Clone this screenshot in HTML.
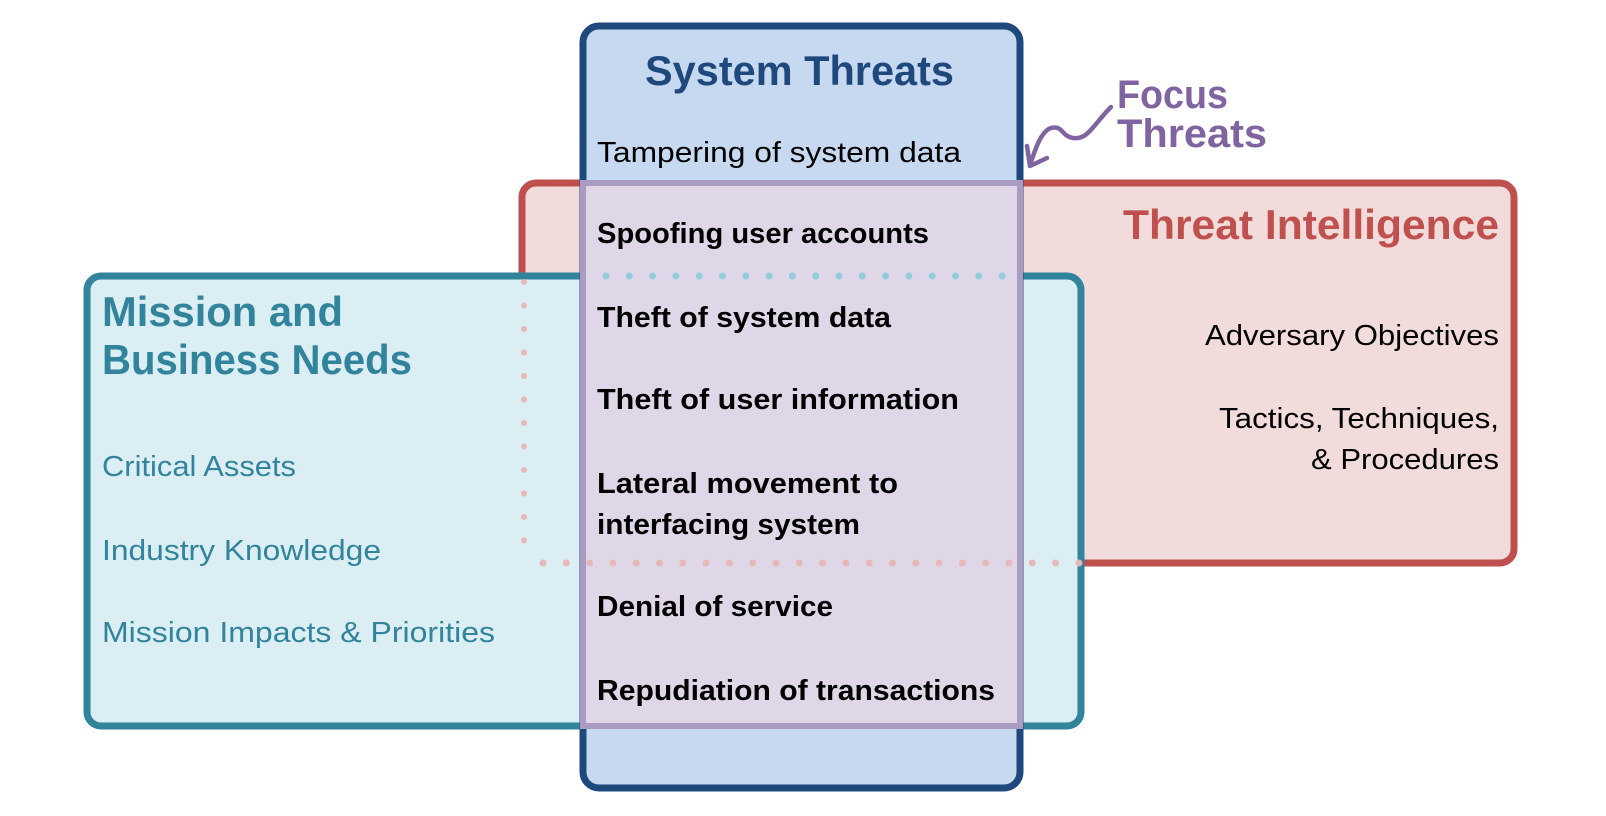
<!DOCTYPE html>
<html><head><meta charset="utf-8"><style>html,body{margin:0;padding:0;background:#fff}svg{display:block}</style></head>
<body>
<svg width="1606" height="816" viewBox="0 0 1606 816" xmlns="http://www.w3.org/2000/svg" font-family="Liberation Sans, sans-serif">
<rect x="522" y="183" width="992" height="380" rx="14" fill="#f2dcdb" stroke="#c0504d" stroke-width="7"/>
<rect x="87" y="276" width="994" height="450" rx="14" fill="#dbeef4" stroke="#31849b" stroke-width="7"/>
<rect x="583" y="26" width="437" height="762" rx="16" fill="#c6d9f1" stroke="#1f497d" stroke-width="7"/>
<rect x="583" y="183" width="437" height="543" fill="#dfd7e8" stroke="#a99bc1" stroke-width="6"/>
<line x1="606" y1="276" x2="1008" y2="276" stroke="#92cddc" stroke-width="7" stroke-linecap="round" stroke-dasharray="0 23.3"/>
<line x1="524" y1="282" x2="524" y2="542" stroke="#e6b9b8" stroke-width="6" stroke-linecap="round" stroke-dasharray="0 23.5"/>
<line x1="543" y1="563" x2="1080" y2="563" stroke="#e6b9b8" stroke-width="7" stroke-linecap="round" stroke-dasharray="0 23.3"/>
<g font-weight="bold">
<text x="645" y="85" font-size="42" fill="#1f497d" textLength="309" lengthAdjust="spacingAndGlyphs">System Threats</text>
<text x="1123" y="239" font-size="42" fill="#c0504d" textLength="376" lengthAdjust="spacingAndGlyphs">Threat Intelligence</text>
<text x="102" y="326" font-size="42" fill="#31849b" textLength="241" lengthAdjust="spacingAndGlyphs">Mission and</text>
<text x="102" y="374" font-size="42" fill="#31849b" textLength="310" lengthAdjust="spacingAndGlyphs">Business Needs</text>
<text x="1117" y="108" font-size="40" fill="#8064a2" textLength="111" lengthAdjust="spacingAndGlyphs">Focus</text>
<text x="1117" y="147" font-size="40" fill="#8064a2" textLength="150" lengthAdjust="spacingAndGlyphs">Threats</text>
<g font-size="29" fill="#000">
<text x="597" y="243" textLength="332" lengthAdjust="spacingAndGlyphs">Spoofing user accounts</text>
<text x="597" y="327" textLength="294" lengthAdjust="spacingAndGlyphs">Theft of system data</text>
<text x="597" y="409" textLength="362" lengthAdjust="spacingAndGlyphs">Theft of user information</text>
<text x="597" y="493" textLength="301" lengthAdjust="spacingAndGlyphs">Lateral movement to</text>
<text x="597" y="534" textLength="263" lengthAdjust="spacingAndGlyphs">interfacing system</text>
<text x="597" y="616" textLength="236" lengthAdjust="spacingAndGlyphs">Denial of service</text>
<text x="597" y="700" textLength="398" lengthAdjust="spacingAndGlyphs">Repudiation of transactions</text>
</g></g>
<g font-size="29">
<text x="597" y="162" fill="#000" textLength="364" lengthAdjust="spacingAndGlyphs">Tampering of system data</text>
<text x="102" y="476" fill="#31849b" textLength="194" lengthAdjust="spacingAndGlyphs">Critical Assets</text>
<text x="102" y="560" fill="#31849b" textLength="279" lengthAdjust="spacingAndGlyphs">Industry Knowledge</text>
<text x="102" y="642" fill="#31849b" textLength="393" lengthAdjust="spacingAndGlyphs">Mission Impacts &amp; Priorities</text>
<text x="1205" y="345" fill="#000" textLength="294" lengthAdjust="spacingAndGlyphs">Adversary Objectives</text>
<text x="1219" y="428" fill="#000" textLength="280" lengthAdjust="spacingAndGlyphs">Tactics, Techniques,</text>
<text x="1311" y="469" fill="#000" textLength="188" lengthAdjust="spacingAndGlyphs">&amp; Procedures</text>
</g>
<path d="M1111,107 C1093,125 1088,140 1073,138 C1061,136 1063,125 1051,128 C1041,131 1035,150 1030,165" fill="none" stroke="#8064a2" stroke-width="4.5" stroke-linecap="round"/>
<path d="M1027,146 L1030,166 L1047,158" fill="none" stroke="#8064a2" stroke-width="4.5" stroke-linecap="round" stroke-linejoin="round"/>
</svg>
</body></html>
